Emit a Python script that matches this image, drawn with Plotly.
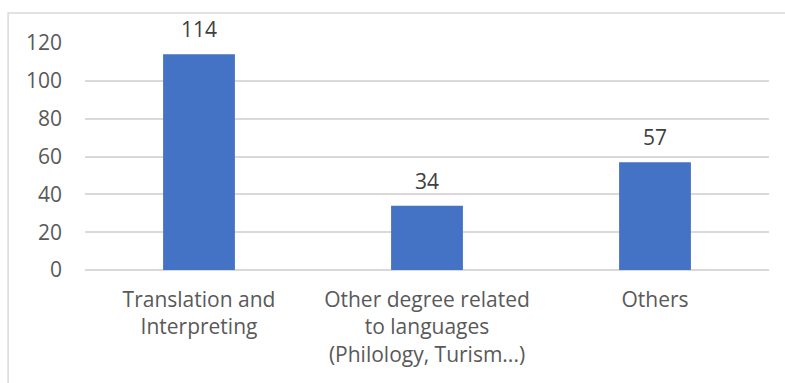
import plotly.graph_objects as go

categories = [
    "Translation and<br>Interpreting",
    "Other degree related<br>to languages<br>(Philology, Turism...)",
    "Others",
]
counts = [114, 34, 57]
y_ticks = [0, 20, 40, 60, 80, 100, 120]

FONT = "Open Sans"
AXIS_COLOR = "#595959"
LABEL_COLOR = "#404040"
GRID = "#d9d9d9"
SIZE = 21

fig = go.Figure(
    go.Bar(
        x=categories,
        y=counts,
        marker=dict(color="#4472C4", line=dict(width=0)),
        width=0.315,
        hoverinfo="x+y",
    )
)

# value labels above each bar
for cat, val in zip(categories, counts):
    fig.add_annotation(
        x=cat, y=val, text=str(val), showarrow=False,
        yanchor="bottom", yshift=9,
        font=dict(family=FONT, size=SIZE, color=LABEL_COLOR),
    )

# light outer frame around the chart
fig.add_shape(
    type="rect", xref="paper", yref="paper",
    x0=-0.1124, x1=1.05, y0=-0.6, y1=1.132,
    line=dict(color=GRID, width=1.5), fillcolor="rgba(0,0,0,0)",
    layer="below",
)

fig.update_layout(
    width=785, height=383,
    margin=dict(l=85, r=16, t=43, b=113),
    paper_bgcolor="white", plot_bgcolor="white",
    showlegend=False,
    bargap=0.685,
    font=dict(family=FONT, size=SIZE, color=AXIS_COLOR),
)
fig.update_xaxes(
    showgrid=False, showline=False, zeroline=False, ticks="",
    ticklabelstandoff=15,
    tickfont=dict(family=FONT, size=SIZE, color=AXIS_COLOR),
)
fig.update_yaxes(
    range=[0, 120], tickvals=y_ticks,
    showgrid=True, gridcolor=GRID, gridwidth=1.5,
    zeroline=True, zerolinecolor=GRID, zerolinewidth=1.5,
    showline=False, ticks="",
    ticklabelstandoff=22,
    tickfont=dict(family=FONT, size=SIZE, color=AXIS_COLOR),
)

fig.write_html("out.html")
